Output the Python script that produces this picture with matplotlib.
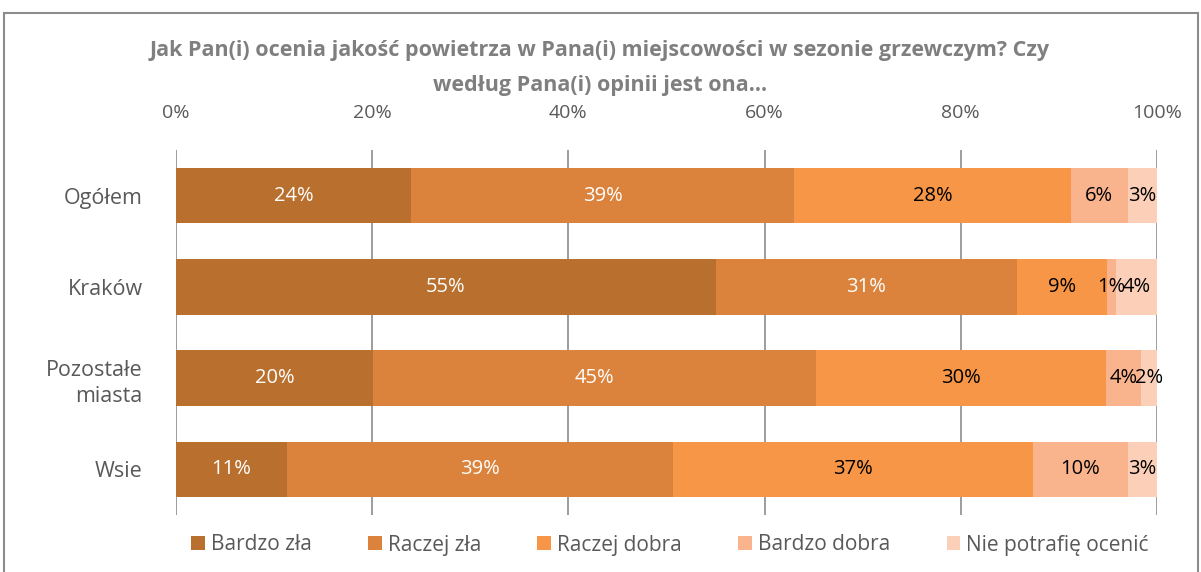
"""
Air quality rating in the heating season, 100% stacked horizontal bars.
"""

import matplotlib.pyplot as plt
import numpy as np
from matplotlib.patches import Rectangle

plt.rcParams["font.family"] = ["Open Sans", "DejaVu Sans"]

categories = ["Ogółem", "Kraków", "Pozostałe\nmiasta", "Wsie"]
series_names = ["Bardzo zła", "Raczej zła", "Raczej dobra", "Bardzo dobra", "Nie potrafię ocenić"]

bardzo_zla = [24.0, 55.0, 20.1, 11.3]
raczej_zla = [39.0, 30.7, 45.1, 39.4]
raczej_dobra = [28.2, 9.2, 29.6, 36.7]
bardzo_dobra = [5.8, 0.9, 3.6, 9.6]
nie_wiem = [3.0, 4.2, 1.6, 3.0]

colors = ["#B9702F", "#DB833C", "#F69646", "#F9B48D", "#FBCFB8"]
label_colors = ["white", "white", "black", "black", "black"]

title = ("Jak Pan(i) ocenia jakość powietrza w Pana(i) miejscowości w sezonie grzewczym? Czy\n"
         "według Pana(i) opinii jest ona...")

W, H = 1201, 572
fig = plt.figure(figsize=(W / 100, H / 100), dpi=100)
ax = fig.add_axes([176 / W, (H - 515) / H, (1157 - 176) / W, (515 - 150) / H])

series = [bardzo_zla, raczej_zla, raczej_dobra, bardzo_dobra, nie_wiem]
y = np.arange(len(categories))
left = np.zeros(len(categories))
for name, vals, col, tcol in zip(series_names, series, colors, label_colors):
    vals = np.asarray(vals)
    ax.barh(y, vals, left=left, height=0.61, color=col, label=name, zorder=3)
    for yi, (l, v) in enumerate(zip(left, vals)):
        ax.text(l + v / 2, yi, f"{round(v):d}%", ha="center", va="center",
                color=tcol, fontsize=14.5, zorder=4)
    left += vals

ax.set_xlim(0, 100)
ax.set_ylim(3.5, -0.5)
ax.set_xticks(np.arange(0, 101, 20))
ax.set_xticklabels([f"{t}%" for t in range(0, 101, 20)])
ax.xaxis.tick_top()
ax.tick_params(axis="x", length=0, pad=20, labelsize=14, labelcolor="#595959")
ax.set_yticks(y)
ax.set_yticklabels(categories, fontsize=15.5, color="#595959", linespacing=1.35)
ax.tick_params(axis="y", length=0, pad=24)
ax.grid(axis="x", color="#8C8C8C", linewidth=1.2, zorder=0)
for s in ax.spines.values():
    s.set_visible(False)

fig.text(600 / W, 1 - 68 / H, title, ha="center", va="center", fontsize=15.5,
         fontweight="bold", color="#7F7F7F", linespacing=1.85)

fig.legend(loc="center", bbox_to_anchor=(670 / W, 1 - 545 / H), ncol=5,
           frameon=False, fontsize=15, handlelength=0.65, handleheight=0.65,
           handletextpad=0.3, columnspacing=2.7, labelcolor="#595959")

fig.patches.append(Rectangle((4 / W, -0.01), (1198 - 4) / W, 1 - 13 / H + 0.01,
                             transform=fig.transFigure, fill=False,
                             edgecolor="#8C8C8C", linewidth=1.5))

fig.savefig("out.png", dpi=100)
